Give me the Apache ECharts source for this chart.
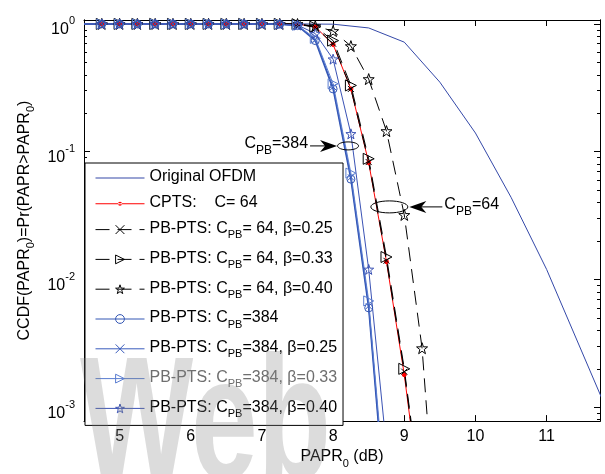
<!DOCTYPE html>
<html>
<head>
<meta charset="utf-8">
<script src="https://cdn.jsdelivr.net/npm/echarts@6/dist/echarts.min.js"></script>
<style>
html, body { margin: 0; padding: 0; background: #fff; }
#main { width: 605px; height: 474px; }
</style>
</head>
<body>
<div id="main"></div>
<script>
var FONT = 'Liberation Sans, Arial, sans-serif';

// PAPR0 (dB) grid of the PTS curves, marker every 0.25 dB
var papr = [4.5, 4.75, 5, 5.25, 5.5, 5.75, 6, 6.25, 6.5, 6.75, 7, 7.25, 7.5, 7.75, 8, 8.25, 8.5, 8.75, 9, 9.25, 9.5];

// original OFDM
var paprOfdm = [4.5, 7.5, 8, 8.5, 9, 9.5, 10, 10.5, 11, 12];
var ccdfOfdm = [1, 1, 0.995, 0.93, 0.72, 0.35, 0.14, 0.044, 0.012, 0.0006];

// C = 64 group
var ccdfCpts   = [1, 1, 1, 1, 1, 1, 1, 1, 1, 1, 1, 1, 0.995, 0.95, 0.69, 0.31, 0.082, 0.0138, 0.0018, 0.00015, null];
var ccdf64b25  = [1, 1, 1, 1, 1, 1, 1, 1, 1, 1, 1, 1, 0.995, 0.94, 0.70, 0.31, 0.083, 0.014, 0.0019, 0.00016, null];
var ccdf64b33  = [1, 1, 1, 1, 1, 1, 1, 1, 1, 1, 1, 1, 0.995, 0.95, 0.74, 0.33, 0.088, 0.015, 0.002, 0.00017, null];
var ccdf64b40  = [1, 1, 1, 1, 1, 1, 1, 1, 1, 1, 1, 1, 0.998, 0.96, 0.88, 0.67, 0.37, 0.145, 0.032, 0.0029, 0.00004];

// C_PB = 384 group
var ccdf384    = [1, 1, 1, 1, 1, 1, 1, 1, 1, 1, 1, 0.995, 0.97, 0.74, 0.31, 0.061, 0.006, 0.00013, null, null, null];
var ccdf384b25 = [1, 1, 1, 1, 1, 1, 1, 1, 1, 1, 1, 0.995, 0.97, 0.75, 0.32, 0.063, 0.0062, 0.00014, null, null, null];
var ccdf384b33 = [1, 1, 1, 1, 1, 1, 1, 1, 1, 1, 1, 0.995, 0.975, 0.77, 0.34, 0.068, 0.0068, 0.00016, null, null, null];
var ccdf384b40 = [1, 1, 1, 1, 1, 1, 1, 1, 1, 1, 1, 0.997, 0.98, 0.84, 0.53, 0.138, 0.012, 0.00048, null, null, null];

var xTicks = [5, 6, 7, 8, 9, 10, 11];
var yTicks = [0.001, 0.01, 0.1, 1];

var names = [
    'Original OFDM', 'CPTS: C= 64',
    'PB-PTS: C_PB= 64, b=0.25', 'PB-PTS: C_PB= 64, b=0.33', 'PB-PTS: C_PB= 64, b=0.40',
    'PB-PTS: C_PB=384', 'PB-PTS: C_PB=384, b=0.25', 'PB-PTS: C_PB=384, b=0.33', 'PB-PTS: C_PB=384, b=0.40'
];
var colors = ['#3448a8', '#ff0000', '#000000', '#000000', '#000000', '#3356b4', '#3a5cbc', '#5a7dd0', '#3a52b4'];

// minor log ticks 2..9 x 10^k
var yMinor = [];
for (var k = -4; k <= 0; k++) {
    for (var m = 2; m <= 9; m++) yMinor.push(+(m * Math.pow(10, k)).toPrecision(3));
}

function starPath() {
    var pts = [];
    for (var i = 0; i < 10; i++) {
        var r = i % 2 ? 4 : 10, a = Math.PI / 2 - i * Math.PI / 5;
        pts.push((10 + r * Math.cos(a)).toFixed(2) + ',' + (10 - r * Math.sin(a)).toFixed(2));
    }
    return 'path://M' + pts.join('L') + 'Z';
}
var STAR = starPath();
var CROSS = 'path://M0,0L10,10M10,0L0,10';
var TRI = 'path://M0,0L10,5L0,10Z';
var DASH = [14, 8];

function pairs(xs, ys) {
    var out = [];
    for (var i = 0; i < xs.length; i++) {
        if (ys[i] == null) continue;
        out.push(i === 0 ? { value: [xs[i], ys[i]], symbol: 'none' } : [xs[i], ys[i]]);
    }
    return out;
}

function mk(name, xs, ys, color, width, dash, symbol, size, fill) {
    return {
        name: name,
        type: 'line',
        data: pairs(xs, ys),
        symbol: symbol,
        symbolSize: size,
        showAllSymbol: true,
        lineStyle: { color: color, width: width, type: dash },
        itemStyle: { color: fill || 'rgba(255,255,255,0)', borderColor: color, borderWidth: 1 },
        emphasis: { disabled: true }
    };
}

var rich = {
    t: { fontSize: 16, lineHeight: 18, verticalAlign: 'top', fontFamily: FONT },
    s: { fontSize: 11, lineHeight: 12, padding: [9, 0, 0, 0], verticalAlign: 'top', fontFamily: FONT }
};

function richName(n) {
    var m = n.match(/^PB-PTS: C_PB=(.*?)(, b=(.*))?$/);
    if (!m) return '{t|' + n.replace('CPTS: ', 'CPTS:    ') + '}';
    return '{t|PB-PTS: C}{s|PB}{t|=' + m[1] + (m[3] ? ', \u03b2=' + m[3] : '') + '}';
}

// legend icons drawn as plain line (+ small dot) paths, box fixed to 49x10
var ICON_LINE = 'path://M0,0M49,10M0,4.5L49,4.5L49,5.5L0,5.5Z';
var ICON_DOT = 'path://M0,0M49,10M0,4.5L49,4.5L49,5.5L0,5.5ZM22.5,5A2,2,0,1,0,26.5,5A2,2,0,1,0,22.5,5Z';

var chart = echarts.init(document.getElementById('main'), null, { renderer: 'canvas' });

function xAxisCfg(pos, labels) {
    return {
        type: 'value', position: pos, min: 4.5, max: 11.75,
        axisLine: { show: true, onZero: false, lineStyle: { color: '#000', width: 1 } },
        axisTick: { show: true, inside: true, length: 6, customValues: xTicks, lineStyle: { color: '#000' } },
        axisLabel: { show: labels, customValues: xTicks, margin: 7, fontSize: 16, color: '#000', fontFamily: FONT },
        splitLine: { show: false }
    };
}

function yAxisCfg(pos, minor) {
    return {
        type: 'log', logBase: 10, position: pos, min: 0.00078, max: 1.073,
        axisLine: { show: true, onZero: false, lineStyle: { color: '#000', width: 1 } },
        axisTick: { show: true, inside: true, length: minor ? 3 : 6, customValues: minor ? yMinor : yTicks, lineStyle: { color: '#000' } },
        axisLabel: { show: false },
        splitLine: { show: false }
    };
}

var yLeft = yAxisCfg('left', false);
yLeft.axisLabel = {
    show: true, customValues: yTicks, margin: 9, color: '#000',
    formatter: function (v) { return '{b|10}{e|' + Math.round(Math.log10(v)) + '}'; },
    rich: {
        b: { fontSize: 16, lineHeight: 16, padding: [6, 0, 0, 0], verticalAlign: 'top', fontFamily: FONT, color: '#000' },
        e: { fontSize: 11, lineHeight: 11, verticalAlign: 'top', fontFamily: FONT, color: '#000' }
    }
};
yLeft.name = '{t|CCDF(PAPR}{s|0}{t|)=Pr(PAPR>PAPR}{s|0}{t|)}';
yLeft.nameLocation = 'middle';
yLeft.nameGap = 45;
yLeft.nameTextStyle = { color: '#000', rich: rich };

var xBottom = xAxisCfg('bottom', true);
xBottom.name = '{t|PAPR}{s|0}{t| (dB)}';
xBottom.nameLocation = 'middle';
xBottom.nameGap = 25;
xBottom.nameTextStyle = { color: '#000', rich: rich };

var legendData = names.map(function (n, i) {
    var d = { name: n };
    if (i === 0) { d.icon = ICON_LINE; d.itemStyle = { color: colors[0], borderWidth: 0 }; }
    else if (i === 1) { d.icon = ICON_DOT; d.itemStyle = { color: colors[1], borderWidth: 0 }; }
    else {
        d.itemStyle = { color: 'rgba(255,255,255,0)', borderColor: colors[i], borderWidth: 1 };
        d.lineStyle = { width: 1 };
    }
    if (i === 7) d.textStyle = { color: '#6e6e6e' };
    return d;
});

var option = {
    animation: false,
    backgroundColor: '#fff',
    grid: { left: 84, right: 5, top: 20, bottom: 47, containLabel: false },
    xAxis: [xBottom, xAxisCfg('top', false)],
    yAxis: [yLeft, yAxisCfg('left', true), yAxisCfg('right', false), yAxisCfg('right', true)],
    legend: {
        orient: 'vertical', left: 85, top: 163,
        padding: [6, 6, 6, 10], itemGap: 9.8, itemWidth: 49, itemHeight: 11,
        backgroundColor: '#fff', borderColor: '#000', borderWidth: 1,
        textStyle: { color: '#000', rich: rich },
        formatter: richName,
        data: legendData
    },
    series: [
        mk(names[0], paprOfdm, ccdfOfdm, colors[0], 1, 'solid', 'none', 0),
        mk(names[1], papr, ccdfCpts, colors[1], 1, 'solid', 'circle', 4, '#ff0000'),
        mk(names[2], papr, ccdf64b25, colors[2], 1, DASH, CROSS, 6),
        mk(names[3], papr, ccdf64b33, colors[3], 1, DASH, TRI, 11),
        mk(names[4], papr, ccdf64b40, colors[4], 1, DASH, STAR, 11),
        mk(names[5], papr, ccdf384, colors[5], 1.6, 'solid', 'circle', 8),
        mk(names[6], papr, ccdf384b25, colors[6], 1, 'solid', CROSS, 6),
        mk(names[7], papr, ccdf384b33, colors[7], 1, 'solid', TRI, 10),
        mk(names[8], papr, ccdf384b40, colors[8], 1, 'solid', STAR, 10)
    ]
};

chart.setOption(option);

// annotations: ellipses marking the two curve groups, with arrows and labels
function px(x, y) { return chart.convertToPixel({ xAxisIndex: 0, yAxisIndex: 0 }, [x, y]); }
var e384 = px(8.21, 0.111);
var e64 = px(8.79, 0.037);
var annRich = {
    t: { fontSize: 16, lineHeight: 18, verticalAlign: 'top', fontFamily: FONT, color: '#000' },
    s: { fontSize: 12, lineHeight: 13, padding: [9, 0, 0, 0], verticalAlign: 'top', fontFamily: FONT, color: '#000' }
};
chart.setOption({
    graphic: [
        { type: 'ellipse', z: 50, shape: { cx: e384[0], cy: e384[1], rx: 10.5, ry: 4 }, style: { fill: 'none', stroke: '#000', lineWidth: 1 } },
        { type: 'line', z: 50, shape: { x1: e384[0] - 38, y1: e384[1], x2: e384[0] - 20, y2: e384[1] }, style: { stroke: '#000', lineWidth: 1 } },
        { type: 'polygon', z: 50, shape: { points: [[e384[0] - 11, e384[1]], [e384[0] - 28, e384[1] - 6], [e384[0] - 23, e384[1]], [e384[0] - 28, e384[1] + 6]] }, style: { fill: '#000' } },
        { type: 'text', z: 50, x: e384[0] - 40, y: e384[1] - 10, style: { text: '{t|C}{s|PB}{t|=384}', rich: annRich, align: 'right', verticalAlign: 'top' } },

        { type: 'ellipse', z: 50, shape: { cx: e64[0], cy: e64[1], rx: 18.5, ry: 6 }, style: { fill: 'none', stroke: '#000', lineWidth: 1 } },
        { type: 'line', z: 50, shape: { x1: e64[0] + 30, y1: e64[1], x2: e64[0] + 53, y2: e64[1] }, style: { stroke: '#000', lineWidth: 1 } },
        { type: 'polygon', z: 50, shape: { points: [[e64[0] + 20, e64[1]], [e64[0] + 37, e64[1] - 6], [e64[0] + 32, e64[1]], [e64[0] + 37, e64[1] + 6]] }, style: { fill: '#000' } },
        { type: 'text', z: 50, x: e64[0] + 55, y: e64[1] - 10, style: { text: '{t|C}{s|PB}{t|=64}', rich: annRich, align: 'left', verticalAlign: 'top' } },

        // faint watermark over the lower left
        { type: 'text', z: 100, silent: true, x: 80, y: 343, scaleY: 1.45, style: { text: 'Web', font: 'bold 120px ' + FONT, fill: 'rgba(130,130,130,0.28)', verticalAlign: 'top' } }
    ]
});
</script>
</body>
</html>
